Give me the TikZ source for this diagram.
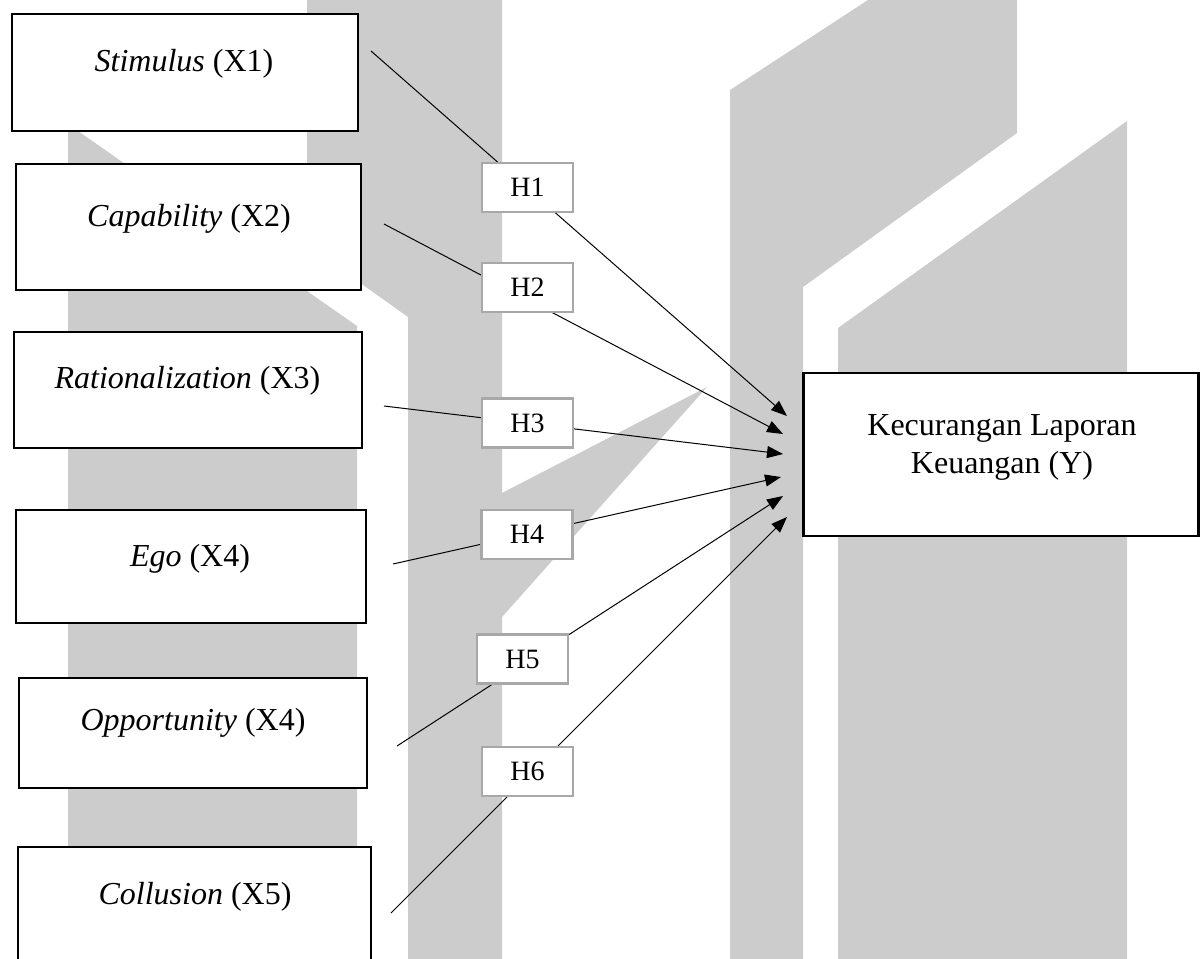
\documentclass[tikz,border=0pt]{standalone}
\usepackage{fontspec}
\setmainfont{Liberation Serif}
\usetikzlibrary{arrows.meta}
\definecolor{wm}{RGB}{204,204,204}
\definecolor{hgray}{RGB}{168,168,168}
\begin{document}
\begin{tikzpicture}[x=1pt,y=-1pt,
  varbox/.style={draw=black, line width=2.3pt, fill=white, inner sep=0pt},
  hbox/.style={draw=hgray, line width=2.5pt, fill=white, minimum width=91pt, minimum height=49pt, inner sep=0pt, font=\fontsize{28}{32}\selectfont},
  lbl/.style={anchor=base, inner sep=0pt, font=\fontsize{32}{38}\selectfont},
  link/.style={line width=1pt, -{Triangle[length=16pt,width=12pt]}}
]
\useasboundingbox (0,0) rectangle (1201,958);
\clip (0,0) rectangle (1201,958);
% watermark
\fill[wm] (68,124) -- (357,326) -- (357,1000) -- (68,1000) -- cycle;
\fill[wm] (307,0) -- (502,0) -- (502,493) -- (707,387) -- (502,617) -- (502,1000) -- (408,1000) -- (408,317) -- (307,245) -- cycle;
\fill[wm] (730,90) -- (868,0) -- (1017,0) -- (1017,133) -- (803,287) -- (803,1000) -- (730,1000) -- cycle;
\fill[wm] (838,328) -- (1127,121) -- (1127,1000) -- (838,1000) -- cycle;
% connector ends
\coordinate (s1) at (371,51);  \coordinate (t1) at (787,416);
\coordinate (s2) at (384,224); \coordinate (t2) at (783,434);
\coordinate (s3) at (384,406); \coordinate (t3) at (783,454);
\coordinate (s4) at (393,564); \coordinate (t4) at (781,477);
\coordinate (s5) at (397,746); \coordinate (t5) at (783,496);
\coordinate (s6) at (391,913); \coordinate (t6) at (787,517);
\draw[link] (s1) -- (t1);
\draw[link] (s2) -- (t2);
\draw[link] (s3) -- (t3);
\draw[link] (s4) -- (t4);
\draw[link] (s5) -- (t5);
\draw[link] (s6) -- (t6);
% hypothesis boxes
\node[hbox] (h1) at (527.5,187.5) {H1};
\node[hbox] (h2) at (527.5,287.5) {H2};
\node[hbox] (h3) at (527.5,423) {H3};
\node[hbox] (h4) at (527,534.5) {H4};
\node[hbox] (h5) at (522.5,659) {H5};
\node[hbox] (h6) at (527.5,771.5) {H6};
% variable boxes
\node[varbox, minimum width=346pt, minimum height=117pt] (x1) at (185,72.5) {};
\node[varbox, minimum width=345pt, minimum height=126pt] (x2) at (188.5,227) {};
\node[varbox, minimum width=348pt, minimum height=116pt] (x3) at (188,390) {};
\node[varbox, minimum width=350pt, minimum height=113pt] (x4) at (191,566.5) {};
\node[varbox, minimum width=348pt, minimum height=110pt] (x5) at (193,733) {};
\node[varbox, minimum width=353pt, minimum height=150pt] (x6) at (194.5,922) {};
\node[varbox, minimum width=395pt, minimum height=163pt] (y) at (1001,454.5) {};
% labels
\node[lbl] (x1l) at (184,71.7) {\textit{Stimulus} (X1)};
\node[lbl] (x2l) at (189,226.7) {\textit{Capability} (X2)};
\node[lbl] (x3l) at (187.5,388) {\textit{Rationalization} (X3)};
\node[lbl] (x4l) at (190,566) {\textit{Ego} (X4)};
\node[lbl] (x5l) at (193,730.7) {\textit{Opportunity} (X4)};
\node[lbl] (x6l) at (195,904) {\textit{Collusion} (X5)};
\node[lbl] (yl1) at (1002,435) {Kecurangan Laporan};
\node[lbl] (yl2) at (1002,473) {Keuangan (Y)};
\end{tikzpicture}
\end{document}
